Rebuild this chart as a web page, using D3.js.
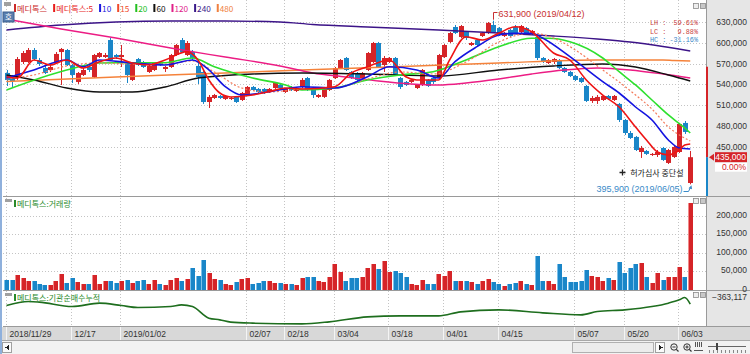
<!DOCTYPE html>
<html><head><meta charset="utf-8">
<script src="https://cdn.jsdelivr.net/npm/d3@7"></script>
<style>
html,body{margin:0;padding:0;background:#fff;overflow:hidden;}
svg{display:block;}
text{font-family:"Liberation Sans",Arial,sans-serif;}
.kr{font-family:"Noto Sans CJK KR","Noto Sans",sans-serif;}
.mono{font-family:"Liberation Mono","DejaVu Sans Mono",monospace;}
</style></head><body>
<svg id="c" width="750" height="354"></svg>
<script>
// ---------------- DATA ----------------
const tradingDays = [
 ["2018/11",[29,30]],
 ["2018/12",[3,4,5,6,7,10,11,12,13,14,17,18,19,20,21,24,26,27,28]],
 ["2019/01",[2,3,4,7,8,9,10,11,14,15,16,17,18,21,22,23,24,25,28,29,30,31]],
 ["2019/02",[1,7,8,11,12,13,14,15,18,19,20,21,22,25,26,27,28]],
 ["2019/03",[4,5,6,7,8,11,12,13,14,15,18,19,20,21,22,25,26,27,28,29]],
 ["2019/04",[1,2,3,4,5,8,9,10,11,12,15,16,17,18,19,22,23,24,25,26,29,30]],
 ["2019/05",[2,3,7,8,9,10,13,14,15,16,17,20,21,22,23,24,27,28,29,30,31]],
 ["2019/06",[3,4,5]]
];
const dates = tradingDays.flatMap(([m, ds]) => ds.map(d => m + "/" + String(d).padStart(2, "0")));

const tickDates  = ["2018/11/29","2018/12/17","2019/01/02","2019/02/07","2019/02/18","2019/03/04","2019/03/18","2019/04/01","2019/04/15","2019/05/07","2019/05/20","2019/06/03"];
const tickLabels = ["2018/11/29","12/17","2019/01/02","02/07","02/18","03/04","03/18","04/01","04/15","05/07","05/20","06/03"];

const open = [
556500,549200,549200,572300,572300,589600,575200,563700,560800,570900,
586700,589600,568000,543500,553600,565100,550700,579500,579500,604000,
582400,579500,570900,546400,576600,572300,557900,560800,572300,562200,
565100,582400,604000,582400,586700,566600,557900,514600,520400,523300,
519000,519000,521900,517500,524700,536300,533400,533400,529100,534800,
539200,529100,536300,530500,536300,549200,534800,521900,521900,531900,
549200,563700,578100,557900,556500,549200,560800,572300,599700,568000,
572300,578100,549200,543500,543500,534800,539200,546400,549200,549200,
579500,601200,622800,608400,615600,596800,604000,609800,614100,625700,
621300,609800,618500,622800,615600,621300,612700,608400,578100,570900,
572300,575200,563700,557900,552100,549200,537700,516100,516100,517500,
523300,517500,511800,488700,469900,464200,442500,444000,438200,438200,
448300,426700,435300,442500,484400,397800];
const high = [
560800,553600,579500,588200,592500,592500,578100,566600,569400,586700,
592500,591100,569400,557900,563700,568000,583900,586700,585300,606900,
583900,596800,572300,572300,578100,573800,568000,572300,573800,566600,
583900,598300,606900,602600,589600,570900,560800,524700,526200,524700,
524700,521900,523300,529100,537700,537700,534800,534800,534800,543500,
540600,534800,537700,536300,549200,550700,536300,526200,536300,547800,
565100,576600,579500,559300,557900,557900,586700,601200,601200,581000,
579500,579500,550700,544900,547800,540600,562200,547800,550700,583900,
598300,615600,625700,625700,617000,601200,605500,615600,630000,631900,
622800,615600,619900,625700,625700,622800,618500,609800,579500,576600,
578100,576600,565100,559300,553600,550700,539200,523300,524700,524700,
524700,524700,513200,490100,472800,465600,451200,445400,441100,445400,
449800,446900,451200,484400,487200,444000];
const low = [
537700,536300,546400,569400,570900,575200,566600,555000,557900,569400,
539200,566600,542000,540600,552100,557900,549200,578100,578100,573800,
576600,565100,542000,544900,566600,563700,556500,559300,566600,557900,
563700,581000,585300,581000,575200,540600,511800,506000,519000,519000,
517500,517500,513200,516100,523300,530500,527600,526200,527600,533400,
533400,527600,530500,529100,534800,530500,520400,520400,520400,530500,
547800,562200,559300,547800,543500,547800,559300,570900,563700,557900,
570900,552100,533400,537700,542000,533400,537700,536300,540600,547800,
578100,599700,612700,606900,604000,595400,595400,608400,612700,614100,
609800,608400,608400,612700,614100,611300,611300,575200,570900,569400,
569400,562200,556500,550700,544900,542000,514600,513200,511800,516100,
517500,516100,485800,467100,461300,444000,433900,438200,436800,435300,
429600,425200,433900,441100,468500,395900];
const close = [
546400,544900,576600,585300,589600,576600,569400,556500,565100,583900,
591100,568000,553600,556500,560800,560800,582400,585300,582400,575200,
579500,582400,553600,570900,568000,565100,566600,570900,568000,565100,
582400,596800,586700,599700,578100,550700,514600,521900,524700,520400,
523300,520400,514600,527600,536300,531900,529100,529100,533400,542000,
534800,533400,531900,534800,546400,531900,524700,524700,534800,546400,
563700,575200,560800,549200,546400,556500,585300,599700,565100,578100,
578100,553600,536300,539200,546400,539200,560800,537700,543500,582400,
596800,614100,614100,624200,606900,599700,596800,614100,628600,615600,
611300,614100,609800,614100,624200,614100,617000,578100,572300,575200,
576600,563700,557900,552100,546400,543500,516100,520400,521900,523300,
519000,523300,488700,469900,462700,445400,448300,439700,439700,442500,
431000,445400,449800,482900,471400,435000];
const volume = [
25000,25000,38000,32000,24000,24000,15000,13000,13000,24000,
43000,18000,32000,20000,15000,15000,39000,16000,22000,22000,
18000,24000,26000,18000,22000,25000,16000,25000,15000,11000,
25000,30000,22000,28000,57000,37000,79000,44000,28000,25000,
15000,11000,20000,28000,30000,16000,18000,22000,22000,18000,
18000,15000,15000,11000,32000,34000,34000,22000,20000,35000,
68000,48000,22000,30000,30000,34000,57000,68000,55000,77000,
48000,50000,46000,35000,16000,11000,27000,16000,15000,42000,
37000,50000,24000,24000,24000,20000,15000,24000,28000,20000,
15000,9000,15000,18000,24000,15000,13000,90000,24000,22000,
16000,70000,35000,20000,20000,22000,52000,37000,35000,24000,
30000,25000,74000,46000,57000,70000,72000,34000,18000,46000,
25000,35000,35000,61000,34000,235000];

// moving averages (index into dates, value)
const ma5Idx = [0,2,5,8,11,14,17,20,23,26,29,33,35,37,39,41,45,48,51,54,60,63,66,70,73,75,79,81,84,87,90,93,96,100,103,106,109,112,115,117,119,121,123,124,125];
const ma5Val = [551100,549200,575200,568000,575200,563700,572800,578100,570900,568000,575200,587200,575200,546400,527600,521900,524700,529500,534800,533400,536700,556500,565500,575200,551100,546400,546400,575200,608800,604000,613700,623200,616000,585300,575200,546400,524700,507400,478600,459800,442500,438200,445400,452600,454100];
const ma10Idx = [0,5,11,14,17,23,29,34,37,40,43,48,52,54,60,66,70,75,79,82,86,90,93,96,98,103,109,112,115,118,121,123,125];
const ma10Val = [549200,560800,575200,565500,575200,570900,568000,575200,560800,536700,524700,529500,534800,536700,534800,551100,565500,560800,549200,572800,594400,611300,613700,613700,606900,580000,543900,527600,507400,488700,459800,448300,446900];
const ma15Idx = [0,5,11,17,23,29,34,38,43,48,54,60,66,72,78,84,90,96,100,104,109,112,115,118,121,123,125];
const ma15Val = [547800,553600,566600,570900,569400,569400,573800,557900,534800,529100,533400,534800,547800,557900,555000,572300,601200,614100,606900,589600,560800,543500,524700,504500,478600,467100,458400];
const ma20Idx = [0,11,17,20,29,34,38,45,51,54,60,66,72,78,84,90,96,99,103,109,112,115,118,121,124,125];
const ma20Val = [532000,560800,570900,571300,571300,578100,565500,549200,539200,532000,534800,546400,553600,558300,575200,594400,606500,606500,601600,578100,558300,539200,517500,495900,477100,469900];
const ma60Idx = [0,5,11,17,23,29,35,45,54,66,79,90,100,109,115,121,125];
const ma60Val = [553600,546400,534800,529100,529100,536300,549200,555000,556500,555000,552100,560800,566600,569400,565100,553600,544900];
const ma120Idx = [0,10,20,30,40,50,56,62,68,74,79,84,90,96,102,108,114,120,125];
const ma120Val = [634300,619900,606900,592500,579500,566600,556500,550700,544900,540600,539200,542000,547800,555000,560800,563700,560800,555000,549200];
const ma240Idx = [0,10,20,30,40,50,56,66,79,90,100,108,114,120,125];
const ma240Val = [618500,625700,630000,631400,631400,630000,626400,622800,618500,614100,609800,605500,601200,594700,588200];
const ma480Idx = [0,20,40,54,70,90,108,120,122,125];
const ma480Val = [544200,550700,556500,560800,565100,570900,575200,575200,574500,573800];

// institutional net buying, cumulative (sampled)
const instIdx = [0,4,6,12,17,21,24,30,32,34,37,39,41,45,54,59,66,72,79,83,90,98,105,108,113,118,121,123,124,125];
const instVal = [-391000,-311000,-323000,-411000,-343000,-391000,-431000,-411000,-377000,-411000,-643000,-677000,-723000,-743000,-757000,-717000,-617000,-597000,-597000,-517000,-477000,-537000,-577000,-511000,-477000,-411000,-343000,-277000,-231000,-363117];

const priceTicks = [450000,480000,510000,540000,570000,600000,630000];
const volTicks = [0,50000,100000,150000,200000];
const sideBarTop = 565500;
const eventText = "허가심사 중단설";

const legendItems = [
  {t:"메디톡스", c:"#cc2a2a"}, {t:"메디톡스:5", c:"#e81c1c"}, {t:"10", c:"#1a1ae0"},
  {t:"15", c:"#f04a2a"}, {t:"20", c:"#22c022"}, {t:"60", c:"#111111"},
  {t:"120", c:"#e0208a"}, {t:"240", c:"#3a1a8a"}, {t:"480", c:"#f08040"}
];
const maSeries = [
  {idx:ma480Idx, val:ma480Val, c:"#f5823a", w:1.4},
  {idx:ma240Idx, val:ma240Val, c:"#3c1488", w:1.4},
  {idx:ma120Idx, val:ma120Val, c:"#ec1c84", w:1.4},
  {idx:ma60Idx,  val:ma60Val,  c:"#101010", w:1.4},
  {idx:ma20Idx,  val:ma20Val,  c:"#2ee02e", w:1.6},
  {idx:ma15Idx,  val:ma15Val,  c:"#f47a5a", w:1.2, dash:"2,2"},
  {idx:ma10Idx,  val:ma10Val,  c:"#1414e0", w:1.6},
  {idx:ma5Idx,   val:ma5Val,   c:"#ee1414", w:1.6}
];

// ---------------- DRAW ----------------
const RED = "#d52428", BLUE = "#1a86c8", RED_L = "#f08a8a", BLUE_L = "#7cc0ea";
const svg = d3.select("#c");
const fmt = d3.format(",");
const PL = 3, PR = 706;

const x = d3.scalePoint().domain(dates).range([6.5, 690.25]);
const xi = i => x(dates[i]);
const yP = d3.scaleLinear().domain([435000, 630000]).range([157.2, 22]);
const yV = d3.scaleLinear().domain([0, 200000]).range([289.5, 215.7]);
const yI = d3.scaleLinear().domain([-820000, -140000]).range([327, 293]);

// backgrounds
svg.append("rect").attr("width",750).attr("height",354).attr("fill","#fff");
svg.append("rect").attr("x",PR+1).attr("y",0).attr("width",750-PR-1).attr("height",327).attr("fill","#e6e6e6");
svg.append("rect").attr("x",0).attr("y",327).attr("width",750).attr("height",13).attr("fill","#d8d8d8");
svg.append("rect").attr("x",0).attr("y",340).attr("width",750).attr("height",14).attr("fill","#f2f2f2");
svg.append("line").attr("x1",0).attr("x2",750).attr("y1",340.5).attr("y2",340.5).attr("stroke","#a8a8a8");

const grid = svg.append("g").attr("stroke","#c4c4c4").attr("stroke-dasharray","1,2").attr("shape-rendering","crispEdges");
tickDates.forEach(d => {
  grid.append("line").attr("x1",Math.round(x(d))-0.5).attr("x2",Math.round(x(d))-0.5).attr("y1",0).attr("y2",327);
});
priceTicks.forEach(v => grid.append("line").attr("x1",PL).attr("x2",PR).attr("y1",Math.round(yP(v))+0.5).attr("y2",Math.round(yP(v))+0.5));
volTicks.slice(1).forEach(v => grid.append("line").attr("x1",PL).attr("x2",PR).attr("y1",Math.round(yV(v))+0.5).attr("y2",Math.round(yV(v))+0.5));

// panel borders
const brd = svg.append("g").attr("stroke","#9a9a9a").attr("shape-rendering","crispEdges");
brd.append("line").attr("x1",PL).attr("x2",750).attr("y1",196.5).attr("y2",196.5);
brd.append("line").attr("x1",PL).attr("x2",750).attr("y1",290.5).attr("y2",290.5);
brd.append("line").attr("x1",PL).attr("x2",750).attr("y1",326.5).attr("y2",326.5);
brd.append("line").attr("x1",PR+0.5).attr("x2",PR+0.5).attr("y1",0).attr("y2",327);

// candles
const cg = svg.append("g");
dates.forEach((d, i) => {
  const up = close[i] >= open[i];
  const col = up ? RED : BLUE;
  const cx = Math.round(xi(i)) + 0.5;
  cg.append("line").attr("x1",cx).attr("x2",cx).attr("y1",yP(high[i])).attr("y2",yP(low[i]))
    .attr("stroke",col).attr("stroke-width",1);
  const yt = yP(Math.max(open[i], close[i])), yb = yP(Math.min(open[i], close[i]));
  cg.append("rect").attr("x",cx-2.5).attr("width",5).attr("y",yt).attr("height",Math.max(1, yb-yt)).attr("fill",col);
});

// moving averages
const lineGen = d3.line().curve(d3.curveMonotoneX);
const mg = svg.append("g").attr("fill","none");
maSeries.forEach(s => {
  const pts = s.idx.map((k, j) => [xi(k), yP(s.val[j])]);
  mg.append("path").attr("d", lineGen(pts)).attr("stroke", s.c).attr("stroke-width", s.w)
    .attr("stroke-dasharray", s.dash || null);
});

// volume bars
const vg = svg.append("g").attr("shape-rendering","crispEdges");
dates.forEach((d, i) => {
  const up = close[i] >= open[i];
  const bx = Math.round(xi(i) - 2.3);
  const yt = yV(volume[i]);
  vg.append("rect").attr("x",bx).attr("width",5).attr("y",yt).attr("height",yV(0)-yt).attr("fill", up ? RED : BLUE);
  vg.append("rect").attr("x",bx).attr("width",1).attr("y",yt).attr("height",yV(0)-yt).attr("fill", up ? RED_L : BLUE_L);
});

// institutional cumulative line
svg.append("path").attr("fill","none").attr("stroke","#1e6e1e").attr("stroke-width",1.6)
  .attr("d", lineGen(instIdx.map((k, j) => [xi(k), yI(instVal[j])])));

// right axis labels
const ax = svg.append("g").attr("font-size","8.5px").attr("fill","#333").attr("text-anchor","end");
priceTicks.forEach(v => ax.append("text").attr("x",747).attr("y",yP(v)+3).text(fmt(v)));
volTicks.forEach(v => ax.append("text").attr("x",747).attr("y",yV(v)+2).text(fmt(v)));
const lastInst = instVal[instVal.length-1];
ax.append("text").attr("x",747).attr("y",300).text(fmt(lastInst));

// side range bar
const lastClose = close[close.length-1];
svg.append("rect").attr("x",706).attr("width",2).attr("y",yP(sideBarTop)).attr("height",yP(lastClose)-yP(sideBarTop)).attr("fill","#d52428");
svg.append("rect").attr("x",706).attr("width",2).attr("y",yP(lastClose)).attr("height",196-yP(lastClose)).attr("fill","#1a86c8");

// current price box
const yc = yP(lastClose);
svg.append("path").attr("d",`M714,${yc-3.5} L714,${yc+3.5} L709,${yc} Z`).attr("fill","#d52428");
svg.append("rect").attr("x",715).attr("y",yc-5).attr("width",32).attr("height",10).attr("fill","#d52428");
svg.append("text").attr("x",746).attr("y",yc+3).attr("text-anchor","end").attr("font-size","8.5px").attr("fill","#fff").text(fmt(lastClose));
svg.append("rect").attr("x",715).attr("y",yc+5.5).attr("width",32).attr("height",9).attr("fill","#fff");
svg.append("text").attr("x",746).attr("y",yc+13).attr("text-anchor","end").attr("font-size","8.5px").attr("fill","#d52428").text("0.00%");

// high / low annotations
const hiV = d3.max(high), hiI = high.indexOf(hiV);
const loV = d3.min(low), loI = low.indexOf(loV);
const hx = Math.round(xi(hiI)) + 0.5;
svg.append("path").attr("d",`M${hx},${yP(hiV)-1} V12.5 H${hx+4}`).attr("fill","none").attr("stroke","#c83030");
svg.append("text").attr("x",hx+5).attr("y",16.5).attr("font-size","9px").attr("fill","#c83030")
  .text(`${fmt(hiV)} (${dates[hiI]})`);
const lx = Math.round(xi(loI)) + 0.5;
svg.append("text").attr("x",lx-8).attr("y",192).attr("text-anchor","end").attr("font-size","9px").attr("fill","#3a8ac8")
  .text(`${fmt(loV)} (${dates[loI]})`);
svg.append("path").attr("d",`M${lx-7},191.5 H${lx-2} L${lx},${yP(loV)+3}`).attr("fill","none").attr("stroke","#3a8ac8");
svg.append("path").attr("d",`M${lx-2},${yP(loV)+4} L${lx+1},${yP(loV)+1} L${lx+1.5},${yP(loV)+5} Z`).attr("fill","#3a8ac8");

// event label
const ev = svg.append("g");
ev.append("text").attr("class","kr").attr("x",lx-7).attr("y",176).attr("text-anchor","end")
  .attr("font-size","8px").attr("fill","#222").text(eventText);
ev.append("path").attr("d",`M${lx-68},169.5 v6 M${lx-71},172.5 h6`).attr("stroke","#222").attr("stroke-width",1.3);

// LH / LC / HC box
const stats = [
  {k:"LH", v:hiV/loV-1, c:"#c84040"},
  {k:"LC", v:lastClose/loV-1, c:"#c84040"},
  {k:"HC", v:lastClose/hiV-1, c:"#3a8ac8"}
];
stats.forEach((s, j) => {
  svg.append("text").attr("class","mono").attr("x",650).attr("y",25+j*8.5).attr("font-size","6.8px").attr("fill",s.c).text(s.k + " :");
  svg.append("text").attr("class","mono").attr("x",698).attr("y",25+j*8.5).attr("text-anchor","end").attr("font-size","6.8px").attr("fill",s.c)
    .text((s.v*100).toFixed(2) + "%");
});

// x axis labels
const xa = svg.append("g");
tickDates.forEach((d, j) => {
  const tx = Math.round(x(d)) - 0.5;
  xa.append("line").attr("x1",tx).attr("x2",tx).attr("y1",327).attr("y2",340).attr("stroke","#f4f4f4");
  xa.append("text").attr("x",tx+3).attr("y",337).attr("font-size","8.5px").attr("fill","#333").text(tickLabels[j]);
});

// legends
let lxp = 14;
const lg = svg.append("g");
legendItems.forEach(it => {
  lg.append("rect").attr("x",lxp).attr("y",4).attr("width",2).attr("height",8).attr("fill",it.c);
  const t = lg.append("text").attr("class","kr").attr("x",lxp+3).attr("y",11.5).attr("font-size","8.2px").attr("fill",it.c).text(it.t);
  lxp += 3 + t.node().getComputedTextLength() + 6;
});
[[199,"메디톡스:거래량"],[293,"메디톡스:기관순매수누적"]].forEach(([yy, t]) => {
  lg.append("rect").attr("x",14).attr("y",yy+1).attr("width",2).attr("height",7).attr("fill","#2a8a2a");
  lg.append("text").attr("class","kr").attr("x",17).attr("y",yy+8).attr("font-size","8px").attr("fill","#2a8a2a").text(t);
  lg.append("rect").attr("x",5).attr("y",yy).attr("width",7).attr("height",3).attr("fill","#a0a0a0");
});
lg.append("rect").attr("x",4).attr("y",2).attr("width",7).attr("height",4).attr("fill","#a0a0a0");
lg.append("rect").attr("x",3).attr("y",12).attr("width",11).attr("height",10).attr("fill","#5a7eae").attr("stroke","#3a5e8e");
lg.append("text").attr("class","kr").attr("x",8.5).attr("y",20).attr("text-anchor","middle").attr("font-size","7.5px").attr("fill","#fff").text("호");

// small panel buttons
[3,198,292].forEach(yy => {
  [693,700].forEach((bx, k) => {
    svg.append("rect").attr("x",bx+0.5).attr("y",yy+0.5).attr("width",5).attr("height",5)
      .attr("fill", k ? "#c8c8c8" : "#eee").attr("stroke","#8a8a8a").attr("stroke-width",0.8);
  });
});

// bottom scroll bar widgets
const sb = svg.append("g").attr("shape-rendering","crispEdges");
sb.append("rect").attr("x",2.5).attr("y",342.5).attr("width",9).attr("height",10).attr("fill","#fafafa").attr("stroke","#a0a0a0");
sb.append("path").attr("d","M9,345 L9,350 L5,347.5 Z").attr("fill","#222");
sb.append("rect").attr("x",572.5).attr("y",342.5).attr("width",81).attr("height",10).attr("fill","#ececec").attr("stroke","#b0b0b0");
sb.append("rect").attr("x",655.5).attr("y",342.5).attr("width",9).attr("height",10).attr("fill","#fafafa").attr("stroke","#a0a0a0");
sb.append("path").attr("d","M659,345 L659,350 L663,347.5 Z").attr("fill","#222");
[674,687].forEach((cx, k) => {
  svg.append("circle").attr("cx",cx).attr("cy",347).attr("r",3.2).attr("fill","none").attr("stroke","#333").attr("stroke-width",1);
  svg.append("line").attr("x1",cx+2.3).attr("y1",349.3).attr("x2",cx+4.5).attr("y2",351.5).attr("stroke","#333").attr("stroke-width",1.2);
  svg.append("line").attr("x1",cx-1.6).attr("x2",cx+1.6).attr("y1",347).attr("y2",347).attr("stroke","#333");
  if (k) svg.append("line").attr("x1",cx).attr("x2",cx).attr("y1",345.4).attr("y2",348.6).attr("stroke","#333");
});
[695,697,699,701].forEach(bx => svg.append("line").attr("x1",bx+0.5).attr("x2",bx+0.5).attr("y1",342).attr("y2",347).attr("stroke","#555"));
svg.append("path").attr("d","M694,350.5 h9").attr("stroke","#555");
svg.append("line").attr("x1",708).attr("x2",746).attr("y1",346.5).attr("y2",346.5).attr("stroke","#666");
svg.append("rect").attr("x",716).attr("y",343).attr("width",2).attr("height",7).attr("fill","#444");
for (let k = 0; k < 10; k++) svg.append("line").attr("x1",709+k*4+0.5).attr("x2",709+k*4+0.5).attr("y1",350).attr("y2",353).attr("stroke","#888");

// left window frame
svg.append("rect").attr("x",0).attr("y",0).attr("width",2).attr("height",354).attr("fill","#8fb0dc");
</script></body></html>
